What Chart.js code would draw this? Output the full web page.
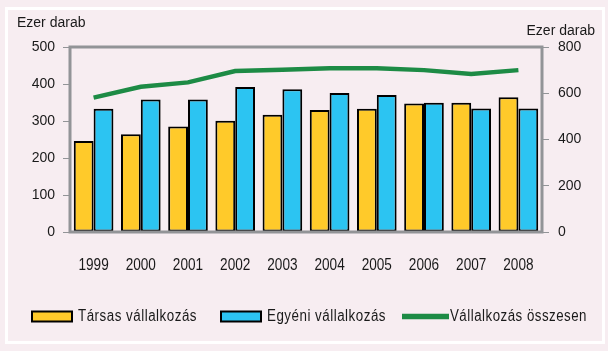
<!DOCTYPE html>
<html>
<head>
<meta charset="utf-8">
<script src="https://cdn.jsdelivr.net/npm/chart.js@4.4.1/dist/chart.umd.min.js"></script>
<style>
  html, body { margin: 0; padding: 0; background: #f7edf1; }
  #wrap { width: 608px; height: 351px; position: relative; }
</style>
</head>
<body>
<div id="wrap"><canvas id="chart"></canvas></div>
<script>
const years = ['1999', '2000', '2001', '2002', '2003', '2004', '2005', '2006', '2007', '2008'];
const tarsas = [246, 264, 285, 301, 317, 330, 333, 347, 349, 364];
const egyeni = [333, 358, 358, 392, 386, 376, 370, 349, 334, 334];
const osszesen = [581, 628, 647, 696, 702, 708, 708, 700, 683, 700];
const unitLabel = 'Ezer darab';
const legendNames = ['Társas vállalkozás', 'Egyéni vállalkozás', 'Vállalkozás összesen'];

const colors = {
    bg: '#f7edf1',
    frame: '#ffffff',
    yellow: '#ffca2a',
    blue: '#2cc4f2',
    green: '#1d8b45',
    axis: '#929497',
    text: '#1a1a1a',
};
const regular = "'Liberation Sans', Arial, sans-serif";

// text squeezed horizontally, like the condensed face in the original
function narrowText(ctx, text, x, y, align, sx) {
    ctx.save();
    ctx.translate(x, y);
    ctx.scale(sx, 1);
    ctx.textAlign = align;
    ctx.fillText(text, 0, 0);
    ctx.restore();
}

function fitText(ctx, text, x, y, width) {
    const w = ctx.measureText(text).width;
    narrowText(ctx, text, x, y, 'left', width / w);
}

// background, frame, plot border, titles, x labels and legend
const decor = {
    id: 'decor',
    beforeDraw(chart) {
        const ctx = chart.ctx;
        ctx.save();
        ctx.fillStyle = colors.bg;
        ctx.fillRect(0, 0, chart.width, chart.height);
        ctx.strokeStyle = colors.frame;
        ctx.lineWidth = 3;
        ctx.strokeRect(6.5, 8.5, 597, 334);
        ctx.restore();
    },
    afterDatasetsDraw(chart) {
        const { ctx, chartArea: a } = chart;
        ctx.save();
        ctx.strokeStyle = colors.axis;
        ctx.lineWidth = 3;
        ctx.strokeRect(a.left, a.top, a.right - a.left, a.bottom - a.top);

        ctx.fillStyle = colors.text;
        ctx.font = '14px ' + regular;
        ctx.textBaseline = 'middle';
        ctx.textAlign = 'left';
        ctx.fillText(unitLabel, 17, 23);
        ctx.textAlign = 'right';
        ctx.fillText(unitLabel, 595, 31);

        // category labels from the x scale
        ctx.font = '17px ' + regular;
        const xs = chart.scales.x;
        years.forEach((yr, i) => {
            narrowText(ctx, yr, xs.getPixelForTick(i), 265, 'center', 0.8);
        });

        // legend
        const y = 316.5;
        ctx.lineWidth = 2;
        ctx.strokeStyle = '#000';
        ctx.fillStyle = colors.yellow;
        ctx.fillRect(32, y - 5, 40, 10);
        ctx.strokeRect(32, y - 5, 40, 10);
        ctx.fillStyle = colors.blue;
        ctx.fillRect(221, y - 5, 40, 10);
        ctx.strokeRect(221, y - 5, 40, 10);
        ctx.strokeStyle = colors.green;
        ctx.lineWidth = 5.5;
        ctx.beginPath();
        ctx.moveTo(402, y);
        ctx.lineTo(449, y);
        ctx.stroke();

        ctx.fillStyle = colors.text;
        ctx.font = '16px ' + regular;
        ctx.letterSpacing = '0.6px';
        fitText(ctx, legendNames[0], 78, y, 119);
        fitText(ctx, legendNames[1], 267, y, 119);
        fitText(ctx, legendNames[2], 450, y, 137);
        ctx.restore();
    }
};

new Chart(document.getElementById('chart'), {
    data: {
        labels: years,
        datasets: [
            {
                type: 'line',
                label: legendNames[2],
                data: osszesen,
                yAxisID: 'y2',
                borderColor: colors.green,
                borderWidth: 4.5,
                pointRadius: 0,
                tension: 0,
                order: 0,
            },
            {
                type: 'bar',
                label: legendNames[0],
                data: tarsas,
                yAxisID: 'y',
                backgroundColor: colors.yellow,
                borderColor: '#000',
                borderWidth: 2,
                borderSkipped: false,
                categoryPercentage: 0.84,
                barPercentage: 1,
                order: 1,
            },
            {
                type: 'bar',
                label: legendNames[1],
                data: egyeni,
                yAxisID: 'y',
                backgroundColor: colors.blue,
                borderColor: '#000',
                borderWidth: 2,
                borderSkipped: false,
                categoryPercentage: 0.84,
                barPercentage: 1,
                order: 1,
            },
        ],
    },
    options: {
        responsive: true,
        maintainAspectRatio: false,
        animation: false,
        layout: { padding: { left: 0, right: 0, top: 47, bottom: 0 } },
        plugins: {
            legend: { display: false },
            tooltip: { enabled: false },
        },
        scales: {
            x: {
                grid: { display: false },
                border: { display: false },
                ticks: { display: false },
                afterFit: (s) => { s.height = 119; },
            },
            y: {
                position: 'left',
                min: 0,
                max: 500,
                grid: { drawOnChartArea: false, color: colors.axis, tickLength: 7, lineWidth: 1 },
                border: { display: false },
                ticks: {
                    stepSize: 100,
                    color: colors.text,
                    font: { family: regular, size: 14 },
                    padding: 8,
                },
                afterFit: (s) => { s.width = 70; },
            },
            y2: {
                position: 'right',
                min: 0,
                max: 800,
                grid: { drawOnChartArea: false, color: colors.axis, tickLength: 7, lineWidth: 1 },
                border: { display: false },
                ticks: {
                    stepSize: 200,
                    color: colors.text,
                    font: { family: regular, size: 14 },
                    padding: 9,
                },
                afterFit: (s) => { s.width = 66; },
            },
        },
    },
    plugins: [decor],
});
</script>
</body>
</html>
